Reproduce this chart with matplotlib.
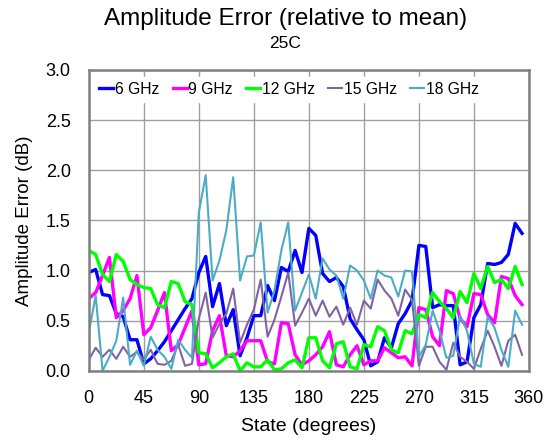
import numpy as np
import matplotlib
matplotlib.use("Agg")
import matplotlib.pyplot as plt

plt.rcParams['font.family'] = ['Liberation Sans', 'DejaVu Sans']

# phase states, 64 steps of 5.625 degrees
states = np.arange(64) * 5.625

err_6 = [0.98, 1.01, 0.76, 0.75, 0.57, 0.54, 0.31, 0.31, 0.07, 0.12,
         0.2, 0.29, 0.4, 0.51, 0.62, 0.72, 0.98, 1.14, 0.64, 0.87,
         0.45, 0.61, 0.15, 0.33, 0.55, 0.55, 0.85, 0.7, 1.03, 0.99,
         1.2, 0.98, 1.42, 1.35, 0.97, 0.89, 0.93, 0.84, 0.52, 0.41,
         0.31, 0.05, 0.09, 0.33, 0.23, 0.47, 0.57, 0.7, 1.25, 1.24,
         0.63, 0.66, 0.65, 0.65, 0.06, 0.09, 0.53, 0.66, 1.07, 1.06,
         1.08, 1.16, 1.47, 1.37]

err_9 = [0.72, 0.78, 0.95, 1.13, 0.53, 0.6, 0.72, 0.95, 0.36, 0.43,
         0.6, 0.78, 0.2, 0.26, 0.43, 0.6, 0.06, 0.07, 0.4, 0.55,
         0.15, 0.14, 0.2, 0.3, 0.3, 0.3, 0.09, 0.07, 0.48, 0.47,
         0.16, 0.06, 0.1, 0.16, 0.24, 0.39, 0.06, 0.04, 0.16, 0.25,
         0.06, 0.1, 0.1, 0.23, 0.18, 0.13, 0.14, 0.05, 0.63, 0.61,
         0.34, 0.25, 0.8, 0.77, 0.52, 0.44, 0.77, 0.76, 0.56, 0.48,
         0.94, 0.92, 0.75, 0.66]

err_12 = [1.2, 1.16, 0.96, 0.89, 1.16, 1.09, 0.91, 0.86, 0.83, 0.82,
          0.66, 0.63, 0.89, 0.87, 0.69, 0.66, 0.18, 0.17, 0.03, 0.08,
          0.14, 0.17, 0.0, 0.08, 0.04, 0.04, 0.11, 0.01, 0.02, 0.08,
          0.11, 0.03, 0.33, 0.33, 0.1, 0.03, 0.27, 0.29, 0.04, 0.02,
          0.26, 0.24, 0.44, 0.4, 0.21, 0.18, 0.4, 0.37, 0.56, 0.53,
          0.78, 0.69, 0.62, 0.53, 0.79, 0.68, 0.97, 0.82, 1.04, 0.88,
          0.91, 0.82, 1.04, 0.86]

err_15 = [0.11, 0.23, 0.14, 0.21, 0.12, 0.24, 0.14, 0.19, 0.11, 0.21,
          0.07, 0.06, 0.1, 0.26, 0.05, 0.07, 0.52, 0.78, 0.33, 0.47,
          0.57, 0.82, 0.28, 0.46, 0.61, 0.91, 0.34, 0.51, 0.74, 0.98,
          0.45, 0.58, 0.72, 0.55, 0.7, 0.54, 0.64, 0.46, 0.63, 0.46,
          0.7, 0.62, 0.91, 0.8, 0.72, 0.55, 0.81, 0.71, 0.05, 0.24,
          0.24, 0.09, 0.01, 0.28, 0.14, 0.09, 0.02, 0.22, 0.4, 0.24,
          0.05, 0.3, 0.36, 0.16]

err_18 = [0.38, 0.75, 0.0, 0.14, 0.3, 0.73, 0.06, 0.2, 0.05, 0.34,
          0.21, 0.14, 0.02, 0.31, 0.21, 0.13, 1.58, 1.95, 0.9, 1.1,
          1.4, 1.93, 0.9, 1.14, 1.15, 1.48, 0.58, 0.8, 1.2, 1.48,
          0.6, 0.78, 0.96, 0.72, 1.12, 1.01, 0.95, 0.72, 1.05, 1.0,
          0.9, 0.72, 1.0, 0.95, 0.93, 0.74, 1.0, 0.99, 0.14, 0.26,
          0.6, 0.4, 0.13, 0.15, 0.55, 0.4, 0.07, 0.04, 0.54, 0.43,
          0.21, 0.04, 0.6, 0.46]

labels = ["6 GHz", "9 GHz", "12 GHz", "15 GHz", "18 GHz"]
colors = ["#0000FF", "#FF00FF", "#00FF00", "#8064A2", "#4BACC6"]
widths = [2.4, 2.4, 2.4, 1.5, 1.5]

fig = plt.figure(figsize=(5.55, 4.42), dpi=100)
ax = fig.add_axes([0.160, 0.161, 0.793, 0.681])

for ys, lab, c, w in zip([err_6, err_9, err_12, err_15, err_18], labels, colors, widths):
    ax.plot(states, ys, color=c, lw=w, label=lab)

ax.set_xlim(0, 360)
ax.set_ylim(0, 3.0)
ax.set_xticks(np.arange(0, 361, 45))
ax.set_yticks(np.arange(0, 3.01, 0.5))
ax.set_yticklabels([f"{v:.1f}" for v in np.arange(0, 3.01, 0.5)])
ax.tick_params(length=0, labelsize=13)
ax.tick_params(axis="x", pad=14)
ax.tick_params(axis="y", pad=13)
ax.grid(True, color="#A0A0A0", lw=1.0)
ax.set_axisbelow(True)
for s in ax.spines.values():
    s.set_color("#808080")
    s.set_linewidth(1.8)

ax.set_xlabel("State (degrees)", fontsize=14, labelpad=8)
ax.set_ylabel("Amplitude Error (dB)", fontsize=13.5, labelpad=9)

fig.text(0.514, 0.958, "Amplitude Error (relative to mean)", ha="center", va="center", fontsize=17.5)
fig.text(0.514, 0.902, "25C", ha="center", va="center", fontsize=12.5)

leg = ax.legend(loc="center", bbox_to_anchor=(0.455, 0.935), ncol=5, frameon=True,
                fontsize=11.3, handlelength=0.9, handletextpad=0.1, columnspacing=0.85,
                borderpad=0.3, fancybox=False)
leg.get_frame().set_edgecolor("white")
leg.get_frame().set_facecolor("white")
leg.get_frame().set_alpha(1.0)

fig.savefig("out.png", dpi=100)
